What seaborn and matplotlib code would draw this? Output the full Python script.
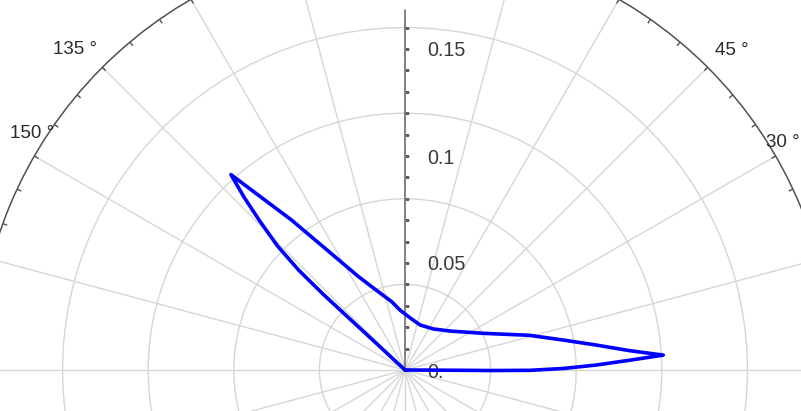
import numpy as np
import pandas as pd
import matplotlib
matplotlib.use("Agg")
import matplotlib.pyplot as plt
import seaborn as sns

# Kurve: Winkel (Grad) und Radius, vom Ursprung nach rechts, oben zurueck, links zum Ursprung
theta_deg = [-0.3, -0.3, -0.35, -0.15, 0.55, 1.5, 2.5, 3.3,
             4.9, 7.4, 10.7, 15.6, 25.1, 40.9, 55.4, 71.6, 84.5, 94.8,
             101.0, 110.4, 116.6, 123.3, 127.1, 130.0, 131.7,
             133.0, 134.3, 135.8, 136.8, 137.2, 137.2, 137.1, 137.1]
radius = [0.0, 0.02, 0.04, 0.0584, 0.074, 0.0896, 0.1052, 0.1209,
          0.1055, 0.0903, 0.0753, 0.0603, 0.0404, 0.0278, 0.0233, 0.0222,
          0.0245, 0.0281, 0.0325, 0.0403, 0.049, 0.068, 0.0878, 0.1067, 0.1223,
          0.110, 0.097, 0.083, 0.068, 0.052, 0.035, 0.018, 0.0]

# Achsen / Raster
ring_values = [0.04, 0.08, 0.12, 0.16]
spoke_angles = [a for a in range(0, 360, 15) if a != 90]
r_label_values = [0.0, 0.05, 0.1, 0.15]
r_label_texts = ["0.", "0.05", "0.1", "0.15"]
angle_label_values = [30, 45, 135, 150]
angle_label_texts = ["30 °", "45 °", "135 °", "150 °"]

r_max = 0.2
r_axis_end = 0.168

df = pd.DataFrame({"theta": np.deg2rad(theta_deg), "r": radius})

sns.set_style("white")
plt.rcParams['font.family'] = ['Liberation Sans', 'DejaVu Sans']

W, H = 801, 411
cx, cy = 405, 41      # Mittelpunkt in Pixeln (von unten)
rpx = 428             # Pixel fuer r_max

fig = plt.figure(figsize=(W / 100, H / 100), dpi=100)
ax = fig.add_axes([(cx - rpx) / W, (cy - rpx) / H, 2 * rpx / W, 2 * rpx / H],
                  projection="polar")
ax.set_ylim(0, r_max)

# Raster
ax.set_xticks(np.deg2rad(spoke_angles))
ax.set_yticks(ring_values)
ax.set_xticklabels([])
ax.set_yticklabels([])
ax.tick_params(length=0)
ax.grid(True, color="#d6d6d6", lw=1.0)
ax.spines["polar"].set_color("#505050")
ax.spines["polar"].set_linewidth(1.1)

# kleine Markierungen am Aussenkreis alle 5 Grad
ax.vlines(np.deg2rad(np.arange(0, 360, 5)), r_max - 0.0022, r_max,
          color="#505050", lw=1.0)

# radiale Achse bei 90 Grad
ax.plot([np.pi / 2, np.pi / 2], [0, r_axis_end], color="#606060", lw=1.1, zorder=3)
ax.plot(np.full(17, np.pi / 2), np.arange(17) * 0.01, ls="none", marker=1,
        markersize=3, color="#606060", markeredgewidth=1.0, zorder=3)

for val, txt in zip(r_label_values, r_label_texts):
    ax.annotate(txt, xy=(np.pi / 2, val), xytext=(22, 0), textcoords="offset pixels",
                ha="left", va="center_baseline", fontsize=14.2, color="#3a3a3a",
                annotation_clip=False)

angle_offsets = {30: (7, 16), 45: (24, 19), 135: (-27, 20), 150: (-2, 25)}
for ang, txt in zip(angle_label_values, angle_label_texts):
    ax.annotate(txt, xy=(np.deg2rad(ang), r_max), xytext=angle_offsets[ang],
                textcoords="offset pixels", ha="center", va="center_baseline",
                fontsize=13.5, color="#2a2a2a", annotation_clip=False)

# Kurve
sns.lineplot(data=df, x="theta", y="r", ax=ax, sort=False, estimator=None,
             color="#0000ff", lw=2.6, zorder=4)
ax.set_xlabel("")
ax.set_ylabel("")

fig.savefig("out.png", dpi=100)
